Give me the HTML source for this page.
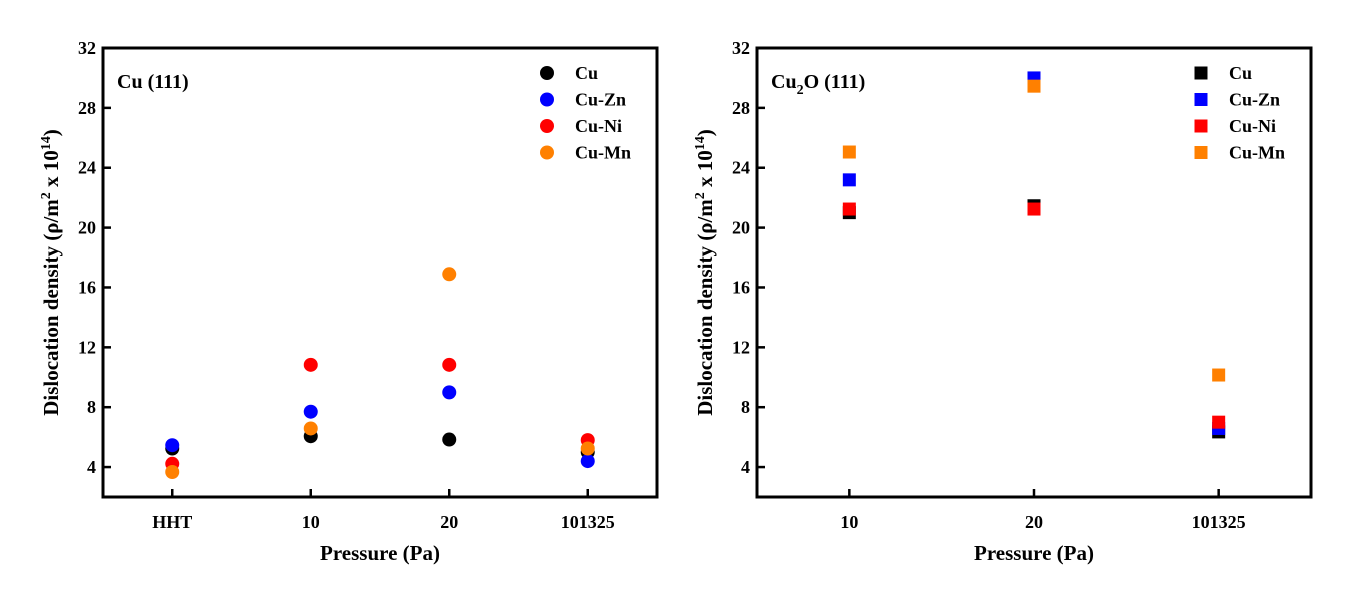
<!DOCTYPE html>
<html><head><meta charset="utf-8"><style>
body{margin:0;background:#fff;}
svg text{font-family:"Liberation Serif",serif;font-weight:bold;fill:#000;}
</style></head><body>
<svg id="chart" width="1357" height="602" xmlns="http://www.w3.org/2000/svg"></svg>
<script>
const categoriesLeft = ["HHT","10","20","101325"];
const categoriesRight = ["10","20","101325"];
const seriesNames = ["Cu","Cu-Zn","Cu-Ni","Cu-Mn"];
const seriesColors = ["#000000","#0000ff","#ff0000","#ff8000"];
const leftCu   = [5.24, 6.06, 5.84, 5.0];
const leftCuZn = [5.46, 7.7, 8.99, 4.4];
const leftCuNi = [4.22, 10.83, 10.83, 5.8];
const leftCuMn = [3.67, 6.58, 16.88, 5.24];
const rightCu   = [21.0, 21.46, 6.35];
const rightCuZn = [23.19, 30.0, 6.58];
const rightCuNi = [21.24, 21.24, 7.0];
const rightCuMn = [25.05, 29.45, 10.15];
const yTicks = [4, 8, 12, 16, 20, 24, 28, 32];
const yMin = 2, yMax = 32;

const NS = "http://www.w3.org/2000/svg";
const svg = document.getElementById("chart");
function mk(tag, attrs, parent){const e=document.createElementNS(NS,tag);for(const k in attrs)e.setAttribute(k,attrs[k]);(parent||svg).appendChild(e);return e;}

function panel(cfg){
  const g = mk("g",{});
  
  
  const L=cfg.x0,R=cfg.x1,T=48,B=497;
  const n=cfg.cats.length;
  const xs=i=>L+(i+0.5)*(R-L)/n;
  const ys=v=>B-(v-yMin)/(yMax-yMin)*(B-T);
  const frame=mk("rect",{x:L,y:T,width:R-L,height:B-T,fill:"none",stroke:"#000","stroke-width":3},g);
  
  
  yTicks.forEach(t=>{
    const y=ys(t);
    if(t<32) mk("line",{x1:L,x2:L+8,y1:y,y2:y,stroke:"#000","stroke-width":2.5},g);
    const tx=mk("text",{x:L-7,y:y+6,"text-anchor":"end","font-size":18},g);
    tx.textContent=t;
    
    
  });
  cfg.cats.forEach((c,i)=>{
    const x=xs(i);
    mk("line",{x1:x,x2:x,y1:B,y2:B-8,stroke:"#000","stroke-width":2.5},g);
    const tx=mk("text",{x:x,y:B+31,"text-anchor":"middle","font-size":18},g);
    tx.textContent=c;
    
    
  });
  const xt=mk("text",{x:(L+R)/2,y:560,"text-anchor":"middle","font-size":21},g);
  xt.textContent="Pressure (Pa)";
  
  
  const yt=mk("text",{x:0,y:0,"text-anchor":"middle","font-size":21,transform:`translate(${L-45},${(T+B)/2}) rotate(-90)`},g);
  yt.innerHTML='Dislocation density (ρ/m<tspan dy="-8" font-size="14">2</tspan><tspan dy="8"> x 10</tspan><tspan dy="-8" font-size="14">14</tspan><tspan dy="8">)</tspan>';
  
  
  const pt=mk("text",{x:L+14,y:88,"font-size":20},g);
  pt.innerHTML=cfg.titleHtml;
  
  
  cfg.series.forEach((vals,si)=>{
    vals.forEach((v,i)=>{
      let m;
      if(cfg.square) m=mk("rect",{x:xs(i)-6.5,y:ys(v)-6.5,width:13,height:13,fill:seriesColors[si]},g);
      else m=mk("circle",{cx:xs(i),cy:ys(v),r:7,fill:seriesColors[si]},g);
      
      
    });
    const ly=73+si*26.5;
    let lm;
    if(cfg.square) lm=mk("rect",{x:cfg.legX-6.5,y:ly-6.5,width:13,height:13,fill:seriesColors[si]},g);
    else lm=mk("circle",{cx:cfg.legX,cy:ly,r:7,fill:seriesColors[si]},g);
    
    
    const lt=mk("text",{x:cfg.legX+28,y:ly+6,"font-size":18},g);
    lt.textContent=seriesNames[si];
    
    
  });
}
panel({name:"cu-111-panel",x0:103,x1:657,cats:categoriesLeft,series:[leftCu,leftCuZn,leftCuNi,leftCuMn],square:false,legX:547,titleHtml:'Cu (111)'});
panel({name:"cu2o-111-panel",x0:757,x1:1311,cats:categoriesRight,series:[rightCu,rightCuZn,rightCuNi,rightCuMn],square:true,legX:1201,titleHtml:'Cu<tspan dy="6" font-size="14">2</tspan><tspan dy="-6">O (111)</tspan>'});
</script>
</body></html>
